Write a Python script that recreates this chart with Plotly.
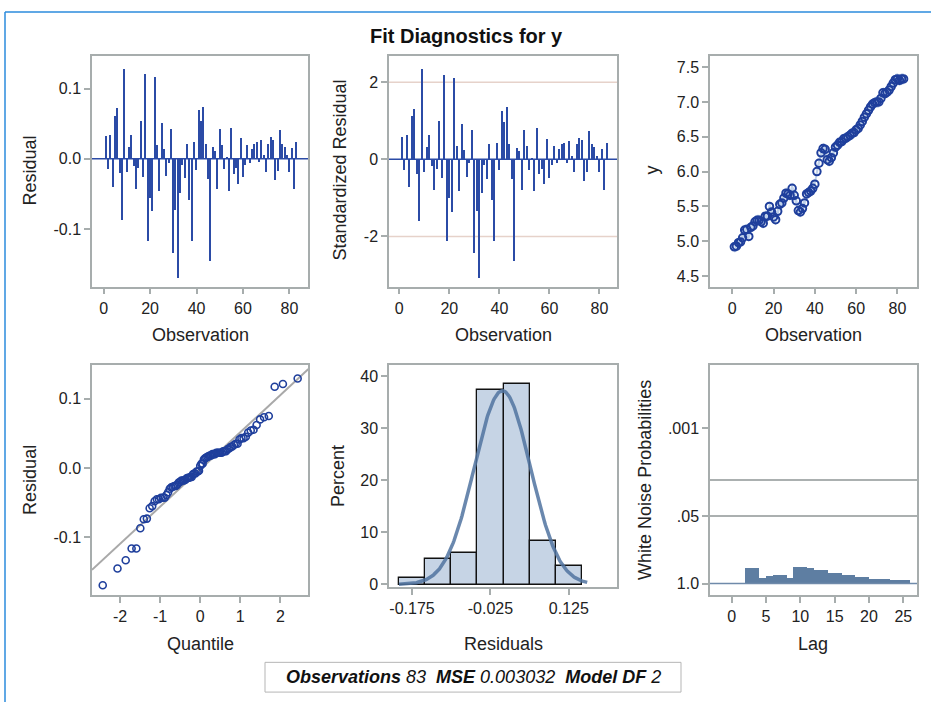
import numpy as np
import plotly.graph_objects as go
from plotly.subplots import make_subplots
from statistics import NormalDist

W, H = 931, 708

# ---------------- data ----------------
observation = list(range(1, 84))
residual = [0.033, -0.014, 0.035, -0.039, 0.062, 0.073, -0.020, -0.087, 0.129, -0.018,
            0.018, 0.035, -0.009, -0.043, -0.013, 0.055, -0.026, 0.121, -0.116, -0.055,
            -0.074, 0.117, 0.020, -0.045, 0.051, 0.014, -0.024, -0.005, 0.043, -0.133,
            -0.073, -0.169, -0.048, -0.008, -0.027, 0.022, -0.058, -0.116, 0.024, -0.015,
            0.070, 0.054, 0.075, 0.022, -0.028, -0.145, 0.017, 0.012, -0.043, 0.043,
            0.020, -0.014, 0.003, -0.045, 0.045, -0.021, -0.013, -0.035, 0.030, -0.026,
            -0.008, 0.020, -0.005, 0.015, 0.022, 0.024, -0.004, 0.027, 0.006, -0.018,
            0.022, 0.031, 0.028, -0.030, -0.017, 0.041, 0.022, 0.018, 0.006, -0.018,
            0.016, -0.043, 0.024]
y_values = [4.92, 4.93, 4.98, 4.99, 5.05, 5.16, 5.17, 5.07, 5.20, 5.22,
            5.28, 5.30, 5.30, 5.28, 5.26, 5.36, 5.36, 5.50, 5.42, 5.35,
            5.31, 5.43, 5.53, 5.55, 5.62, 5.69, 5.68, 5.66, 5.76, 5.66,
            5.58, 5.44, 5.42, 5.47, 5.55, 5.68, 5.70, 5.72, 5.76, 5.82,
            6.00, 6.12, 6.27, 6.33, 6.32, 6.17, 6.15, 6.20, 6.27, 6.35,
            6.38, 6.42, 6.43, 6.47, 6.48, 6.50, 6.52, 6.55, 6.56, 6.60,
            6.62, 6.67, 6.72, 6.78, 6.83, 6.88, 6.93, 6.97, 6.99, 7.00,
            7.00, 7.05, 7.13, 7.12, 7.14, 7.17, 7.22, 7.27, 7.32, 7.33,
            7.31, 7.33, 7.33]
band_half = 0.08
mse = 0.003032
n_obs = 83
model_df = 2

wn_lags = list(range(1, 26))
wn_pvalues = [1.0, 0.494, 0.494, 0.780, 0.724, 0.673, 0.673, 0.791, 0.467, 0.467,
              0.494, 0.556, 0.556, 0.625, 0.625, 0.673, 0.673, 0.757, 0.757, 0.802,
              0.802, 0.802, 0.863, 0.863, 0.863]

hist_start, hist_end, hist_size = -0.2, 0.15, 0.05

# tick labels
obs_ticks = [0, 20, 40, 60, 80]
res_ticks = [-0.1, 0.0, 0.1]
res_ticktext = ['-0.1', '0.0', '0.1']
std_ticks = [-2, 0, 2]
std_ticktext = ['-2', '0', '2']
y_ticks = [4.5, 5.0, 5.5, 6.0, 6.5, 7.0, 7.5]
y_ticktext = ['4.5', '5.0', '5.5', '6.0', '6.5', '7.0', '7.5']
q_ticks = [-2, -1, 0, 1, 2]
q_ticktext = ['-2', '-1', '0', '1', '2']
hist_xticks = [-0.175, -0.025, 0.125]
hist_xticktext = ['-0.175', '-0.025', '0.125']
pct_ticks = [0, 10, 20, 30, 40]
wn_prob_ticks = [1.0, 0.05, 0.001]
wn_prob_ticktext = ['1.0', '.05', '.001']
wn_ref_probs = [0.05, 0.01]
lag_ticks = [0, 5, 10, 15, 20, 25]

# ---------------- derived ----------------
res = np.array(residual)
std_res = res / np.sqrt(mse)
res_mean = float(res.mean())
res_sd = float(res.std(ddof=1))
sorted_res = np.sort(res)
nd = NormalDist()
quantiles = [nd.inv_cdf((i - 0.375) / (len(res) + 0.25)) for i in range(1, len(res) + 1)]
yv = np.array(y_values)

# ---------------- styling ----------------
FONT = 'Liberation Sans, Arial, sans-serif'
frame = '#A7ADAD'
needle = '#2B4BA6'
marker_col = '#1F3F9C'

def px_x(p):
    return p / W

def px_y(p):
    return 1 - p / H

fig = make_subplots(rows=2, cols=3)

# Panel 1: residual needles
fig.add_trace(go.Bar(x=observation, y=residual, width=0.55,
                     marker=dict(color=needle, line=dict(width=0))), row=1, col=1)
# Panel 2: standardized residual needles
fig.add_trace(go.Bar(x=observation, y=std_res, width=0.55,
                     marker=dict(color=needle, line=dict(width=0))), row=1, col=2)
# Panel 3: y with band
fig.add_trace(go.Scatter(x=observation, y=yv - band_half, mode='lines',
                         line=dict(width=0, color='rgba(0,0,0,0)'), hoverinfo='skip'), row=1, col=3)
fig.add_trace(go.Scatter(x=observation, y=yv + band_half, mode='lines', fill='tonexty',
                         fillcolor='rgba(150,180,220,0.6)',
                         line=dict(width=0, color='rgba(0,0,0,0)'), hoverinfo='skip'), row=1, col=3)
fig.add_trace(go.Scatter(x=observation, y=y_values, mode='markers',
                         marker=dict(symbol='circle-open', size=7.5, color=marker_col,
                                     line=dict(width=2, color=marker_col))), row=1, col=3)
# Panel 4: QQ plot
qline_x = np.array([-2.7, 2.7])
fig.add_trace(go.Scatter(x=qline_x, y=res_mean + res_sd * qline_x, mode='lines',
                         line=dict(color='#A9A9A9', width=2)), row=2, col=1)
fig.add_trace(go.Scatter(x=quantiles, y=sorted_res, mode='markers',
                         marker=dict(symbol='circle-open', size=7, color=marker_col,
                                     line=dict(width=1.6, color=marker_col))), row=2, col=1)
# Panel 5: histogram + normal curve
fig.add_trace(go.Histogram(x=residual, histnorm='percent',
                           xbins=dict(start=hist_start, end=hist_end, size=hist_size),
                           marker=dict(color='#C6D4E5', line=dict(color='#111111', width=1.3))),
              row=2, col=2)
cx = np.linspace(-0.2, 0.16, 240)
cy = [100 * hist_size * NormalDist(res_mean, res_sd).pdf(v) for v in cx]
fig.add_trace(go.Scatter(x=cx, y=cy, mode='lines',
                         line=dict(color='rgba(80,115,160,0.85)', width=3.5)), row=2, col=2)
# Panel 6: white noise probabilities
wn_h = -np.log10(np.array(wn_pvalues))
fig.add_trace(go.Bar(x=wn_lags, y=wn_h, width=1, offset=0,
                     marker=dict(color='#5E7EA2', line=dict(width=0))), row=2, col=3)

# reference lines
fig.add_hline(y=0, line=dict(color=needle, width=1.5), row=1, col=1)
fig.add_hline(y=0, line=dict(color=needle, width=1.5), row=1, col=2)
for v in (-2, 2):
    fig.add_hline(y=v, line=dict(color='#E6D2CA', width=1.5), layer='below', row=1, col=2)
for p in wn_ref_probs:
    fig.add_hline(y=-np.log10(p), line=dict(color='#8F9696', width=1.5), row=2, col=3)
fig.add_hline(y=0, line=dict(color='#6F8AAA', width=1.5), row=2, col=3)

# axes
common = dict(showline=True, linecolor=frame, linewidth=1.5, mirror=True,
              ticks='outside', ticklen=6, tickwidth=1.5, tickcolor=frame,
              showgrid=False, zeroline=False,
              tickfont=dict(family=FONT, size=16, color='#222222'))

panels = {
    1: (92, 308, 56, 289),
    2: (389, 617, 56, 289),
    3: (710, 917, 56, 289),
    4: (92, 308, 368, 600),
    5: (389, 617, 368, 592),
    6: (710, 917, 368, 600),
}
for k, (x0, x1, y0, y1) in panels.items():
    sfx = '' if k == 1 else str(k)
    fig.layout['xaxis' + sfx].update(domain=[px_x(x0), px_x(x1)], **common)
    fig.layout['yaxis' + sfx].update(domain=[px_y(y1), px_y(y0)], **common)

fig.layout.xaxis.update(range=[-5, 88], tickvals=obs_ticks)
fig.layout.yaxis.update(range=[-0.182, 0.147], tickvals=res_ticks, ticktext=res_ticktext)
fig.layout.xaxis2.update(range=[-4.1, 87], tickvals=obs_ticks)
fig.layout.yaxis2.update(range=[-3.3, 2.69], tickvals=std_ticks, ticktext=std_ticktext)
fig.layout.xaxis3.update(range=[-10.8, 89.5], tickvals=obs_ticks)
fig.layout.yaxis3.update(range=[4.35, 7.666], tickvals=y_ticks, ticktext=y_ticktext)
fig.layout.xaxis4.update(range=[-2.7, 2.69], tickvals=q_ticks, ticktext=q_ticktext)
fig.layout.yaxis4.update(range=[-0.183, 0.1486], tickvals=res_ticks, ticktext=res_ticktext)
fig.layout.xaxis5.update(range=[-0.219, 0.217], tickvals=hist_xticks, ticktext=hist_xticktext)
fig.layout.yaxis5.update(range=[-0.5, 42.2], tickvals=pct_ticks)
fig.layout.xaxis6.update(range=[-3.16, 27.0], tickvals=lag_ticks)
fig.layout.yaxis6.update(range=[-0.22, 4.22],
                         tickvals=[float(-np.log10(p)) for p in wn_prob_ticks],
                         ticktext=wn_prob_ticktext)

# axis titles as annotations
ann = []
def title_ann(text, x, y, angle=0):
    ann.append(dict(text=text, x=px_x(x), y=px_y(y), xref='paper', yref='paper',
                    showarrow=False, textangle=angle, xanchor='center', yanchor='middle',
                    font=dict(family=FONT, size=18, color='#222222')))

title_ann('Observation', 200, 338)
title_ann('Observation', 503, 338)
title_ann('Observation', 813, 338)
title_ann('Quantile', 200, 650)
title_ann('Residuals', 503, 650)
title_ann('Lag', 813, 650)
title_ann('Residual', 30, 172, -90)
title_ann('Standardized Residual', 340, 172, -90)
title_ann('y', 652, 172, -90)
title_ann('Residual', 30, 484, -90)
title_ann('Percent', 338, 480, -90)
title_ann('White Noise Probabilities', 645, 484, -90)

ann.append(dict(text='<b>Fit Diagnostics for y</b>', x=px_x(466), y=px_y(36),
                xref='paper', yref='paper', showarrow=False,
                xanchor='center', yanchor='middle',
                font=dict(family=FONT, size=20, color='#111111')))
ann.append(dict(text=('<b><i>Observations</i></b><i> %d&nbsp;&nbsp;</i><b><i>MSE</i></b>'
                      '<i> %.6f&nbsp;&nbsp;</i><b><i>Model DF</i></b><i> %d</i>') % (n_obs, mse, model_df),
                x=px_x(473), y=px_y(683), xref='paper', yref='paper', showarrow=False,
                xanchor='center', yanchor='middle',
                font=dict(family=FONT, size=18, color='#111111')))

shapes = [
    dict(type='rect', xref='paper', yref='paper', x0=px_x(265), x1=px_x(681),
         y0=px_y(698), y1=px_y(668), line=dict(color='#B5B5B5', width=1)),
    dict(type='line', xref='paper', yref='paper', x0=px_x(5), x1=1.0,
         y0=px_y(12), y1=px_y(12), line=dict(color='#2B8BDD', width=1.5)),
    dict(type='line', xref='paper', yref='paper', x0=px_x(5), x1=px_x(5),
         y0=px_y(12), y1=0.0, line=dict(color='#2B8BDD', width=1.5)),
]

fig.update_layout(width=W, height=H, margin=dict(l=0, r=0, t=0, b=0),
                  paper_bgcolor='white', plot_bgcolor='white', showlegend=False,
                  bargap=0, annotations=list(fig.layout.annotations) + ann)
for s in shapes:
    fig.add_shape(**s)

fig.write_html('out.html', config={'displayModeBar': False},
               post_script=("document.documentElement.style.margin='0px';"
                            "document.body.style.margin='0px';"
                            "document.documentElement.style.overflow='hidden';"
                            "document.body.style.overflow='hidden';"
                            "var g=document.getElementById('{plot_id}');"
                            "g.style.position='fixed';g.style.left='0px';g.style.top='0px';"
                            "var vw=window.innerWidth, vh=window.innerHeight;"
                            "if(vw>0&&vh>0&&(vw!==%d||vh!==%d)){"
                            "g.style.width=vw+'px';g.style.height=vh+'px';"
                            "Plotly.relayout(g,{width:vw,height:vh});}") % (W, H))
